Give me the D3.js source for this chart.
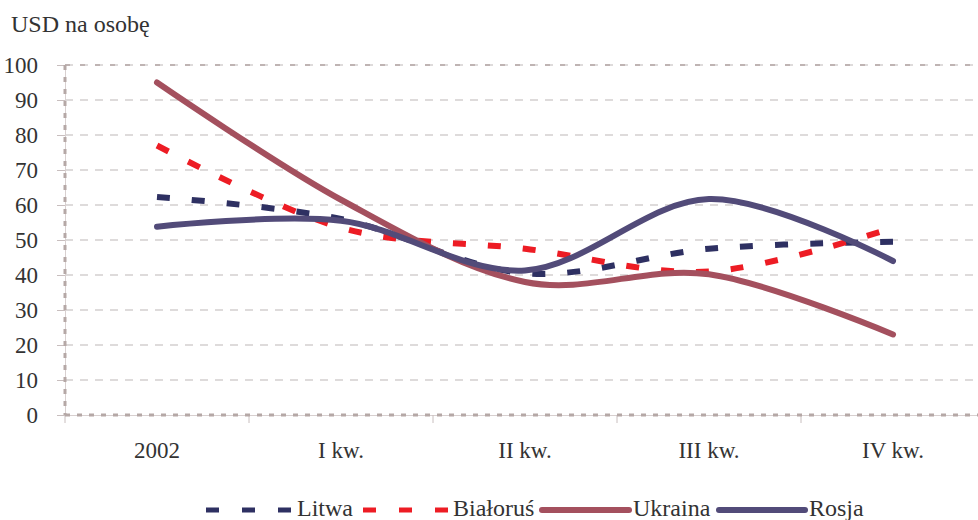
<!DOCTYPE html>
<html>
<head>
<meta charset="utf-8">
<script src="https://cdn.jsdelivr.net/npm/d3@7"></script>
<style>
  body { margin: 0; background: #fff; }
</style>
</head>
<body>
<div class="chart"></div>
<script>
const categories = ['2002', 'I kw.', 'II kw.', 'III kw.', 'IV kw.'];
const litwa = [62.3, 56, 40.5, 47.5, 49.5];
const bialorus = [77, 53.5, 47.5, 41, 53.5];
const ukraina = [95, 61.5, 38, 40.2, 23];
const rosja = [53.8, 55.5, 41.3, 61.7, 44];
const yTicks = [0, 10, 20, 30, 40, 50, 60, 70, 80, 90, 100];

const series = [
  { name: 'Litwa', values: litwa, color: '#2e3062', dash: '13,22', legend: [206, 291, 297] },
  { name: 'Białoruś', values: bialorus, color: '#ed1c24', dash: '13,22', legend: [363, 448, 453] },
  { name: 'Ukraina', values: ukraina, color: '#a4505e', dash: null, legend: [542, 629, 633] },
  { name: 'Rosja', values: rosja, color: '#524b79', dash: null, legend: [719, 805, 809] }
];

const serif = '"Liberation Serif", "Times New Roman", serif';

function displayChart() {
  const w = 978;
  const h = 520;
  const padding = { top: 65, right: -7, bottom: 105, left: 65 };
  const axisColor = '#b5a8a6';

  const xScale = d3.scaleBand()
    .domain(categories)
    .range([padding.left, w - padding.right]);
  const yScale = d3.scaleLinear()
    .domain([0, 100])
    .range([h - padding.bottom, padding.top]);
  const xPos = (i) => xScale(categories[i]) + xScale.bandwidth() / 2;

  const svg = d3.select('.chart')
    .append('svg')
    .attr('width', w)
    .attr('height', h);

  // gridlines
  svg.append('g')
    .selectAll('line')
    .data(yTicks.slice(1))
    .enter()
    .append('line')
    .attr('x1', padding.left)
    .attr('x2', w)
    .attr('y1', (d) => yScale(d))
    .attr('y2', (d) => yScale(d))
    .attr('stroke', '#d4d0d0')
    .attr('stroke-width', 1.3)
    .attr('stroke-dasharray', '8,7');

  // top border dashes
  svg.append('line')
    .attr('x1', padding.left)
    .attr('x2', w)
    .attr('y1', yScale(100))
    .attr('y2', yScale(100))
    .attr('stroke', axisColor)
    .attr('stroke-width', 1.5)
    .attr('stroke-dasharray', '5,10');

  // y axis
  const yAxis = svg.append('g')
    .attr('class', 'y-axis')
    .attr('transform', `translate(${padding.left}, 0)`)
    .call(d3.axisLeft(yScale).tickValues(yTicks).tickSize(8).tickPadding(19));
  yAxis.attr('font-family', null);
  yAxis.select('.domain').attr('stroke', '#d8d0d0').attr('stroke-width', 1);
  yAxis.selectAll('.tick line').attr('stroke', '#c8bebe');
  yAxis.selectAll('.tick text')
    .attr('font-size', 23)
    .attr('fill', '#333')
    .attr('dy', '0.34em')
    .style('font-family', serif);
  yAxis.append('line')
    .attr('x1', 0).attr('x2', 0)
    .attr('y1', yScale(100)).attr('y2', yScale(0))
    .attr('stroke', axisColor)
    .attr('stroke-width', 3)
    .attr('stroke-dasharray', '5,7');

  // x axis
  const xAxis = svg.append('g')
    .attr('class', 'x-axis')
    .attr('transform', `translate(0, ${h - padding.bottom})`)
    .call(d3.axisBottom(xScale).tickSize(0).tickPadding(27));
  xAxis.attr('font-family', null);
  xAxis.select('.domain').attr('stroke', '#d8d0d0').attr('stroke-width', 1);
  xAxis.selectAll('.tick text')
    .attr('font-size', 23)
    .attr('fill', '#333')
    .style('font-family', serif);
  xAxis.selectAll('.band-tick')
    .data(categories)
    .enter()
    .append('line')
    .attr('x1', (d) => xScale(d))
    .attr('x2', (d) => xScale(d))
    .attr('y1', 0)
    .attr('y2', 8)
    .attr('stroke', '#c8bebe');
  xAxis.append('line')
    .attr('x1', padding.left).attr('x2', w)
    .attr('y1', 0).attr('y2', 0)
    .attr('stroke', axisColor)
    .attr('stroke-width', 3)
    .attr('stroke-dasharray', '5,7');

  // lines
  const line = d3.line()
    .x((d, i) => xPos(i))
    .y((d) => yScale(d))
    .curve(d3.curveCardinal.tension(0));

  svg.selectAll('.series')
    .data(series)
    .enter()
    .append('path')
    .attr('class', 'series')
    .attr('d', (d) => line(d.values))
    .attr('fill', 'none')
    .attr('stroke', (d) => d.color)
    .attr('stroke-width', 6)
    .attr('stroke-linecap', (d) => d.dash ? 'butt' : 'round')
    .attr('stroke-dasharray', (d) => d.dash);

  // title
  svg.append('text')
    .attr('x', 11)
    .attr('y', 32)
    .attr('font-size', 24)
    .attr('fill', '#333')
    .style('font-family', serif)
    .text('USD na osobę');

  // legend
  const legend = svg.append('g').attr('class', 'legend');
  series.forEach((s) => {
    legend.append('line')
      .attr('x1', s.legend[0])
      .attr('x2', s.legend[1])
      .attr('y1', 510)
      .attr('y2', 510)
      .attr('stroke', s.color)
      .attr('stroke-width', s.dash ? 5 : 6)
      .attr('stroke-linecap', s.dash ? 'butt' : 'round')
      .attr('stroke-dasharray', s.dash ? '13,23' : null);
    legend.append('text')
      .attr('x', s.legend[2])
      .attr('y', 516)
      .attr('font-size', 24)
      .attr('fill', '#333')
      .style('font-family', serif)
      .text(s.name);
  });
}

displayChart();
</script>
</body>
</html>
